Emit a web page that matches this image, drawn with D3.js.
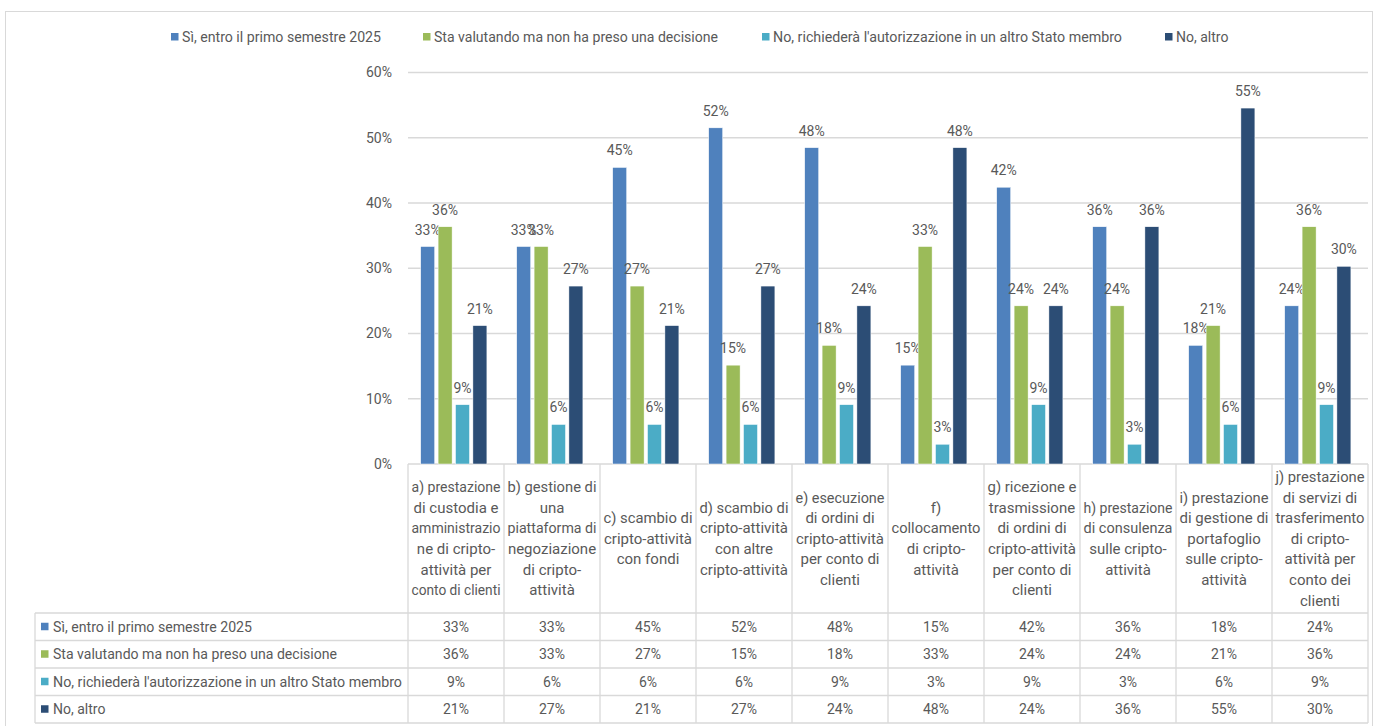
<!DOCTYPE html>
<html>
<head>
<meta charset="utf-8">
<script src="https://cdn.jsdelivr.net/npm/d3@7"></script>
<style>
  body { margin: 0; background: #fff; }
  text { font-family: Roboto, "Liberation Sans", sans-serif; fill: #595959; }
</style>
</head>
<body>
<div id="chart"></div>
<script>
// categories, each already split in the lines shown in the cell
const categories = [
	["a) prestazione","di custodia e","amministrazio","ne di cripto-","attività per","conto di clienti"],
	["b) gestione di","una","piattaforma di","negoziazione","di cripto-","attività"],
	["c) scambio di","cripto-attività","con fondi"],
	["d) scambio di","cripto-attività","con altre","cripto-attività"],
	["e) esecuzione","di ordini di","cripto-attività","per conto di","clienti"],
	["f)","collocamento","di cripto-","attività"],
	["g) ricezione e","trasmissione","di ordini di","cripto-attività","per conto di","clienti"],
	["h) prestazione","di consulenza","sulle cripto-","attività"],
	["i) prestazione","di gestione di","portafoglio","sulle cripto-","attività"],
	["j) prestazione","di servizi di","trasferimento","di cripto-","attività per","conto dei","clienti"]
]

const seriesNames = [
	"Sì, entro il primo semestre 2025",
	"Sta valutando ma non ha preso una decisione",
	"No, richiederà l'autorizzazione in un altro Stato membro",
	"No, altro"
]
const seriesColors = ["#4F81BD", "#9BBB59", "#4BACC6", "#2C4D75"]

const siEntro     = [33.33, 33.33, 45.45, 51.52, 48.48, 15.15, 42.42, 36.36, 18.18, 24.24]
const staValutando = [36.36, 33.33, 27.27, 15.15, 18.18, 33.33, 24.24, 24.24, 21.21, 36.36]
const altroStato  = [9.09, 6.06, 6.06, 6.06, 9.09, 3.03, 9.09, 3.03, 6.06, 9.09]
const noAltro     = [21.21, 27.27, 21.21, 27.27, 24.24, 48.48, 24.24, 36.36, 54.55, 30.30]
const series = [siEntro, staValutando, altroStato, noAltro]

const yTicks = [0, 10, 20, 30, 40, 50, 60]

const W = 1378, H = 726
const plotL = 408, plotR = 1368
const yTop = 72.5, yBot = 464
const tableL = 35
const rowTop = 613, rowH = 27.5
const grid = "#D9D9D9"

// squeeze a text to maxW if the font draws it wider (source font is narrower)
function fit(sel, maxW, exact)
{
	sel.each(function() {
		let w = this.getComputedTextLength()
		if (w > maxW || exact)
			d3.select(this).attr("textLength", maxW).attr("lengthAdjust", "spacingAndGlyphs")
	})
}

const svg = d3.select("#chart").append("svg")
	.attr("width", W).attr("height", H)

// outer frame
svg.append("rect")
	.attr("x", 5.5).attr("y", 11.5)
	.attr("width", 1367).attr("height", 730)
	.attr("fill", "none").attr("stroke", grid)

const x = d3.scaleBand().domain(d3.range(categories.length)).range([plotL, plotR])
const y = d3.scaleLinear().domain([0, 60]).range([yBot, yTop])
const fmt = d3.format(".0%")

// gridlines + y labels
svg.append("g").selectAll("line").data(yTicks).enter().append("line")
	.attr("x1", plotL).attr("x2", plotR)
	.attr("y1", d => y(d)).attr("y2", d => y(d))
	.attr("stroke", grid).attr("stroke-width", 1.3)

svg.append("g").selectAll("text").data(yTicks).enter().append("text")
	.attr("x", 392).attr("y", d => y(d))
	.attr("dy", "0.35em")
	.attr("text-anchor", "end")
	.attr("font-size", 14)
	.text(d => fmt(d/100))

// bars
const barW = 14, barStep = 17.4
const inner = d3.scaleBand().domain(d3.range(series.length))
	.range([0, barStep*series.length])

const groups = svg.append("g").selectAll("g").data(categories).enter().append("g")
	.attr("transform", (d,i) => "translate(" + (x(i) + x.bandwidth()/2 - 0.5 - barStep*series.length/2) + ",0)")

series.forEach(function(vals, s) {
	groups.append("rect")
		.attr("x", inner(s))
		.attr("y", (d,i) => y(vals[i]))
		.attr("width", barW)
		.attr("height", (d,i) => yBot - y(vals[i]))
		.attr("fill", seriesColors[s])
		.attr("stroke", "#fff").attr("stroke-width", 0.5)

	groups.append("text")
		.attr("x", inner(s) + barW/2)
		.attr("y", (d,i) => y(vals[i]) - 12)
		.attr("text-anchor", "middle")
		.attr("font-size", 14)
		.attr("fill", "#404040")
		.text((d,i) => fmt(vals[i]/100))
})

// category table
const tbl = svg.append("g")
const colEdges = d3.range(categories.length + 1).map(i => i < categories.length ? x(i) : plotR)

tbl.selectAll(".vline").data(colEdges).enter().append("line")
	.attr("x1", d => d).attr("x2", d => d)
	.attr("y1", yBot).attr("y2", rowTop + rowH*4)
	.attr("stroke", grid).attr("stroke-width", 1.3)

const rowLines = d3.range(5).map(i => rowTop + rowH*i)
tbl.selectAll(".hline").data(rowLines).enter().append("line")
	.attr("x1", tableL).attr("x2", plotR)
	.attr("y1", d => d).attr("y2", d => d)
	.attr("stroke", grid).attr("stroke-width", 1.3)

tbl.append("line")
	.attr("x1", tableL).attr("x2", tableL)
	.attr("y1", rowTop).attr("y2", rowTop + rowH*4)
	.attr("stroke", grid).attr("stroke-width", 1.3)

const lineH = 20.6
const catMid = (yBot + rowTop) / 2
categories.forEach(function(lines, i) {
	let y0 = catMid - (lines.length - 1) * lineH / 2
	let t = tbl.selectAll(null).data(lines).enter().append("text")
		.attr("x", x(i) + x.bandwidth()/2)
		.attr("y", (l,k) => y0 + k*lineH)
		.attr("dy", "0.35em")
		.attr("text-anchor", "middle")
		.attr("font-size", 15)
		.text(l => l)
	fit(t, 89)
})

const labelW = [199, 284, 349, 60]
series.forEach(function(vals, s) {
	let cy = rowTop + rowH*s + rowH/2
	tbl.append("rect")
		.attr("x", 41).attr("y", cy - 4)
		.attr("width", 7.5).attr("height", 7.5)
		.attr("fill", seriesColors[s])
	let lab = tbl.append("text")
		.attr("x", 53).attr("y", cy).attr("dy", "0.35em")
		.attr("font-size", 14)
		.text(seriesNames[s])
	fit(lab, labelW[s], s < 3)
	tbl.selectAll(null).data(vals).enter().append("text")
		.attr("x", (d,i) => x(i) + x.bandwidth()/2)
		.attr("y", cy).attr("dy", "0.35em")
		.attr("text-anchor", "middle")
		.attr("font-size", 14)
		.text(d => fmt(d/100))
})

// legend
const legendX = [171, 423, 762, 1165]
const leg = svg.append("g")
seriesNames.forEach(function(n, s) {
	leg.append("rect")
		.attr("x", legendX[s]).attr("y", 33)
		.attr("width", 7.5).attr("height", 7.5)
		.attr("fill", seriesColors[s])
	let t = leg.append("text")
		.attr("x", legendX[s] + 11).attr("y", 37).attr("dy", "0.35em")
		.attr("font-size", 14)
		.text(n)
	fit(t, labelW[s], s < 3)
})
</script>
</body>
</html>
